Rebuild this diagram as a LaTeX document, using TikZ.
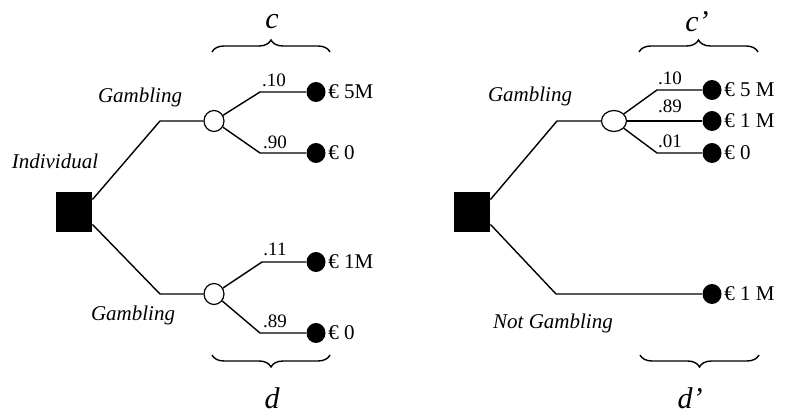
\documentclass[tikz,border=0pt]{standalone}
\usepackage{fontspec}
\setmainfont{Liberation Serif}
\usetikzlibrary{shapes.geometric}
\usetikzlibrary{decorations.pathreplacing}

\tikzset{
	decision/.style={fill=black, minimum width=18pt, minimum height=20pt, inner sep=0pt},
	chance/.style={draw, fill=white, ellipse, minimum width=10pt, minimum height=10.5pt, inner sep=0pt, line width=0.6pt},
	outcome/.style={fill=black, ellipse, minimum width=9.5pt, minimum height=10pt, inner sep=0pt, label distance=5.5pt},
	branch/.style={line width=0.7pt},
	prob/.style={font=\fontsize{9.5}{11}\selectfont, inner sep=1pt},
	act/.style={font=\fontsize{10.5}{12}\selectfont\itshape},
	prize/.style={font=\fontsize{10.5}{12}\selectfont, inner sep=1pt},
	bracelbl/.style={font=\fontsize{15}{17}\selectfont\itshape},
	grp/.style={decorate, decoration={brace, amplitude=6pt}, line width=0.7pt}
}

\begin{document}
\begin{tikzpicture}[x=0.5pt, y=-0.5pt]
			\useasboundingbox (0, 0) rectangle (786, 415);
			% left tree: c and d
			\node[decision] (sqA) at (74, 212) {};
			\coordinate (kA1) at (160, 121);
			\coordinate (kA2) at (160, 294);
			\node[chance] (ovA) at (214, 121) {};
			\node[chance] (ovB) at (214, 294) {};
			\coordinate (kA11) at (260, 92);
			\coordinate (kA12) at (260, 153);
			\coordinate (kB1) at (262, 262);
			\coordinate (kB2) at (260, 333);
			\node[outcome, label={[prize]right:€ 5M}] (oA1) at (316, 92) {};
			\node[outcome, label={[prize]right:€ 0}] (oA2) at (316, 153) {};
			\node[outcome, label={[prize]right:€ 1M}] (oB1) at (316, 262) {};
			\node[outcome, label={[prize]right:€ 0}] (oB2) at (316, 333) {};
			\draw[branch] ([yshift=-4pt]sqA.north east) -- (kA1) -- (ovA);
			\draw[branch] ([yshift=4pt]sqA.south east) -- (kA2) -- (ovB);
			\draw[branch] (ovA) -- (kA11) -- (oA1);
			\draw[branch] (ovA) -- (kA12) -- (oA2);
			\draw[branch] (ovB) -- (kB1) -- (oB1);
			\draw[branch] (ovB) -- (kB2) -- (oB2);
			\node[act] (indiv) at (55, 161) {Individual};
			\node[act] (gambA) at (140, 97) {Gambling};
			\node[act] (gambB) at (133, 315) {Gambling};
			\node[prob] at (274, 80) {.10};
			\node[prob] at (275, 142) {.90};
			\node[prob] at (275, 249) {.11};
			\node[prob] at (275, 321) {.89};
			\coordinate (brC1) at (212, 52);
			\coordinate (brC2) at (330, 52);
			\coordinate (brD1) at (330, 355);
			\coordinate (brD2) at (212, 355);
			\draw[grp] (brC1) -- (brC2);
			\draw[grp] (brD1) -- (brD2);
			\node[bracelbl] (lblC) at (272, 22) {c};
			\node[bracelbl] (lblD) at (272, 398) {d};
			% right tree: c' and d'
			\node[decision] (sqB) at (472, 212) {};
			\coordinate (kC1) at (557, 121);
			\coordinate (kC2) at (556, 294);
			\node[chance, minimum width=12.5pt] (ovC) at (614, 121) {};
			\coordinate (kC11) at (657, 90);
			\coordinate (kC13) at (657, 153);
			\node[outcome, label={[prize]right:€ 5 M}] (oC1) at (712, 90) {};
			\node[outcome, label={[prize]right:€ 1 M}] (oC2) at (712, 121) {};
			\node[outcome, label={[prize]right:€ 0}] (oC3) at (712, 153) {};
			\node[outcome, label={[prize]right:€ 1 M}] (oD) at (712, 294) {};
			\draw[branch] ([yshift=-4pt]sqB.north east) -- (kC1) -- (ovC);
			\draw[branch] ([yshift=4pt]sqB.south east) -- (kC2) -- (oD);
			\draw[branch] (ovC) -- (kC11) -- (oC1);
			\draw[branch] (ovC) -- (oC2);
			\draw[branch] (ovC) -- (kC13) -- (oC3);
			\node[act] (gambC) at (530, 96) {Gambling};
			\node[act] (notgamb) at (553, 323) {Not Gambling};
			\node[prob] at (670, 78) {.10};
			\node[prob] at (670, 106) {.89};
			\node[prob] at (670, 141) {.01};
			\coordinate (brE1) at (639, 52);
			\coordinate (brE2) at (758, 52);
			\coordinate (brF1) at (759, 355);
			\coordinate (brF2) at (640, 355);
			\draw[grp] (brE1) -- (brE2);
			\draw[grp] (brF1) -- (brF2);
			\node[bracelbl] (lblE) at (697, 22) {c'};
			\node[bracelbl] (lblF) at (690, 398) {d'};
		\end{tikzpicture}
\end{document}
